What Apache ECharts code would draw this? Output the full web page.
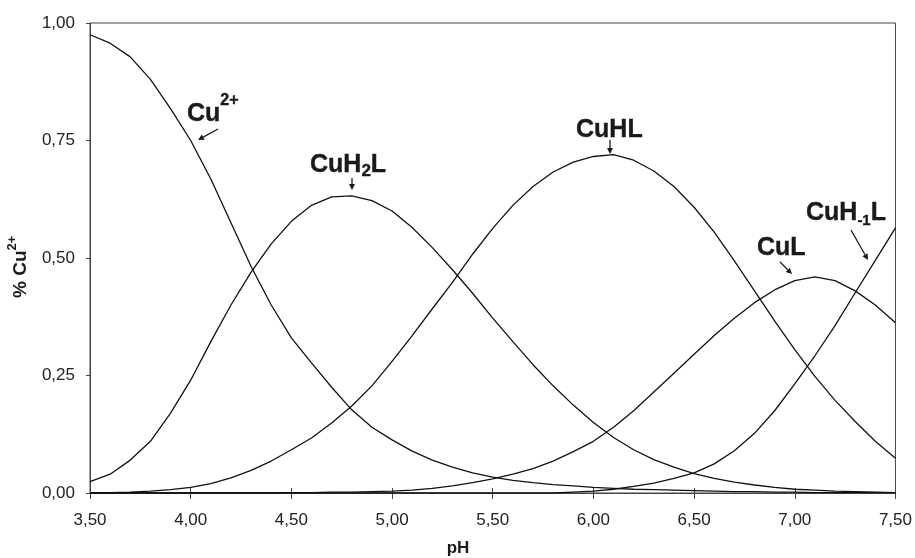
<!DOCTYPE html>
<html><head><meta charset="utf-8">
<script src="https://cdn.jsdelivr.net/npm/echarts@6/dist/echarts.min.js"></script>
<style>html,body{margin:0;padding:0;background:#fff}#c{width:915px;height:558px}</style>
</head><body><div id="c"></div>
<script>
var pH = [3.5,3.6,3.7,3.8,3.9,4.0,4.1,4.2,4.3,4.4,4.5,4.6,4.7,4.8,4.9,5.0,5.1,5.2,5.3,5.4,5.5,5.6,5.7,5.8,5.9,6.0,6.1,6.2,6.3,6.4,6.5,6.6,6.7,6.8,6.9,7.0,7.1,7.2,7.3,7.4,7.5];
var cu2 = [0.975,0.957,0.928,0.880,0.818,0.750,0.668,0.575,0.482,0.400,0.330,0.277,0.225,0.177,0.140,0.113,0.089,0.070,0.055,0.043,0.034,0.027,0.022,0.018,0.015,0.012,0.010,0.008,0.007,0.006,0.005,0.004,0.003,0.003,0.002,0.002,0.001,0.001,0.001,0.001,0.001];
var cuH2L = [0.024,0.040,0.070,0.110,0.170,0.240,0.322,0.400,0.470,0.530,0.578,0.612,0.630,0.632,0.622,0.600,0.565,0.522,0.475,0.425,0.372,0.322,0.273,0.228,0.187,0.150,0.118,0.092,0.071,0.055,0.041,0.031,0.023,0.017,0.012,0.008,0.006,0.004,0.003,0.002,0.001];
var cuHL = [0.000,0.001,0.002,0.004,0.007,0.012,0.020,0.032,0.048,0.068,0.092,0.117,0.149,0.185,0.228,0.280,0.335,0.392,0.448,0.508,0.563,0.612,0.652,0.683,0.704,0.716,0.720,0.708,0.685,0.652,0.608,0.555,0.494,0.430,0.366,0.305,0.248,0.197,0.152,0.110,0.074];
var cuL = [0,0,0,0,0,0,0,0,0,0,0.001,0.001,0.002,0.002,0.003,0.004,0.006,0.010,0.015,0.022,0.030,0.040,0.052,0.068,0.088,0.110,0.140,0.175,0.215,0.255,0.295,0.335,0.372,0.405,0.432,0.452,0.460,0.452,0.430,0.400,0.362];
var cuHm1L = [0,0,0,0,0,0,0,0,0,0,0,0,0,0,0,0,0,0,0,0,0,0,0,0,0.002,0.004,0.008,0.014,0.021,0.031,0.043,0.062,0.090,0.127,0.175,0.232,0.292,0.356,0.426,0.495,0.564];
var xTickValues = [3.5,4.0,4.5,5.0,5.5,6.0,6.5,7.0,7.5];
var xTickLabels = ['3,50','4,00','4,50','5,00','5,50','6,00','6,50','7,00','7,50'];
var yTickValues = [0,0.25,0.5,0.75,1.0];
var yTickLabels = ['0,00','0,25','0,50','0,75','1,00'];

var FONT = 'Liberation Sans, Arial, sans-serif';
var ctx = document.createElement('canvas').getContext('2d');
function tw(t, size){ ctx.font = 'bold ' + size + 'px ' + FONT; return ctx.measureText(t).width; }
function label(parts, x, yc){
  var els = [], cx = x;
  parts.forEach(function(p){
    els.push({type:'text', x:cx, y:yc + p[2], style:{text:p[0], font:'bold '+p[1]+'px '+FONT, fill:'#1a1a1a', stroke:'#1a1a1a', lineWidth:0.4, textVerticalAlign:'middle', verticalAlign:'middle'}});
    cx += tw(p[0], p[1]);
  });
  return els;
}
function arrow(x1,y1,x2,y2){
  var a = Math.atan2(y2-y1, x2-x1), L = 6, W = 3;
  var bx = x2 - L*Math.cos(a), by = y2 - L*Math.sin(a);
  var px = -Math.sin(a)*W, py = Math.cos(a)*W;
  return [
    {type:'polyline', shape:{points:[[x1,y1],[bx,by]]}, style:{stroke:'#1a1a1a', lineWidth:1.3, fill:null}},
    {type:'polygon', shape:{points:[[x2,y2],[bx+px,by+py],[bx-px,by-py]]}, style:{fill:'#1a1a1a'}}
  ];
}
function pairs(v){ return pH.map(function(x,i){ return [x, v[i]]; }); }
function mkSeries(name, v){
  return {name:name, type:'line', data:pairs(v), symbol:'none', smooth:false, silent:true,
    lineStyle:{color:'#111', width:1.3}};
}
var graphics = [];
graphics = graphics.concat(label([['Cu',25,0],['2+',16,-13]], 187, 114));
graphics = graphics.concat(arrow(218,129,198,140));
graphics = graphics.concat(label([['CuH',25,0],['2',17,6],['L',25,0]], 310, 165));
graphics = graphics.concat(arrow(352,178,352,190));
graphics = graphics.concat(label([['CuHL',25,0]], 576, 130.5));
graphics = graphics.concat(arrow(610,140,610,154));
graphics = graphics.concat(label([['CuL',25,0]], 757, 248.5));
graphics = graphics.concat(arrow(780,262,792,274));
graphics = graphics.concat(label([['CuH',25,0],['-1',15,7],['L',25,0]], 806, 213.5));
graphics = graphics.concat(arrow(851,230,868,260));
graphics.push({type:'text', x:458, y:548, style:{text:'pH', font:'bold 17px '+FONT, fill:'#1a1a1a', textAlign:'center', textVerticalAlign:'middle', align:'center', verticalAlign:'middle'}});
graphics.push({type:'group', x:21, y:298, rotation:Math.PI/2, children:[
  {type:'text', x:0, y:0, style:{text:'% Cu', font:'bold 19px '+FONT, fill:'#1a1a1a', textVerticalAlign:'middle', verticalAlign:'middle'}},
  {type:'text', x:tw('% Cu',19), y:-9, style:{text:'2+', font:'bold 13px '+FONT, fill:'#1a1a1a', textVerticalAlign:'middle', verticalAlign:'middle'}}
]});

var chart = echarts.init(document.getElementById('c'), null, {renderer:'canvas'});
chart.setOption({
  animation:false,
  backgroundColor:'#fff',
  grid:{left:90, right:17, top:23, bottom:65, show:true, borderColor:'#444', borderWidth:1, backgroundColor:'transparent'},
  xAxis:[{
    type:'value', min:3.5, max:7.5, interval:0.5,
    axisLine:{show:true, lineStyle:{color:'#444', width:1}},
    axisTick:{show:true, length:6, lineStyle:{color:'#444'}},
    splitLine:{show:false},
    axisLabel:{margin:19, fontSize:17, fontFamily:FONT, color:'#222',
      formatter:function(v){ var i = xTickValues.findIndex(function(t){return Math.abs(t-v)<1e-6;}); return i>=0?xTickLabels[i]:''; }}
  },{
    type:'value', min:3.5, max:7.5, interval:0.5, position:'bottom',
    axisLine:{show:false}, axisTick:{show:true, inside:true, length:5, lineStyle:{color:'#444'}},
    axisLabel:{show:false}, splitLine:{show:false}
  }],
  yAxis:{
    type:'value', min:0, max:1, interval:0.25,
    axisLine:{show:true, lineStyle:{color:'#444', width:1}},
    axisTick:{show:true, length:4, lineStyle:{color:'#444'}},
    splitLine:{show:false},
    axisLabel:{margin:15, fontSize:17, fontFamily:FONT, color:'#222',
      formatter:function(v){ var i = yTickValues.findIndex(function(t){return Math.abs(t-v)<1e-6;}); return i>=0?yTickLabels[i]:''; }}
  },
  series:[mkSeries('Cu2+',cu2), mkSeries('CuH2L',cuH2L), mkSeries('CuHL',cuHL), mkSeries('CuL',cuL), mkSeries('CuH-1L',cuHm1L)],
  graphic:graphics
});
</script></body></html>
